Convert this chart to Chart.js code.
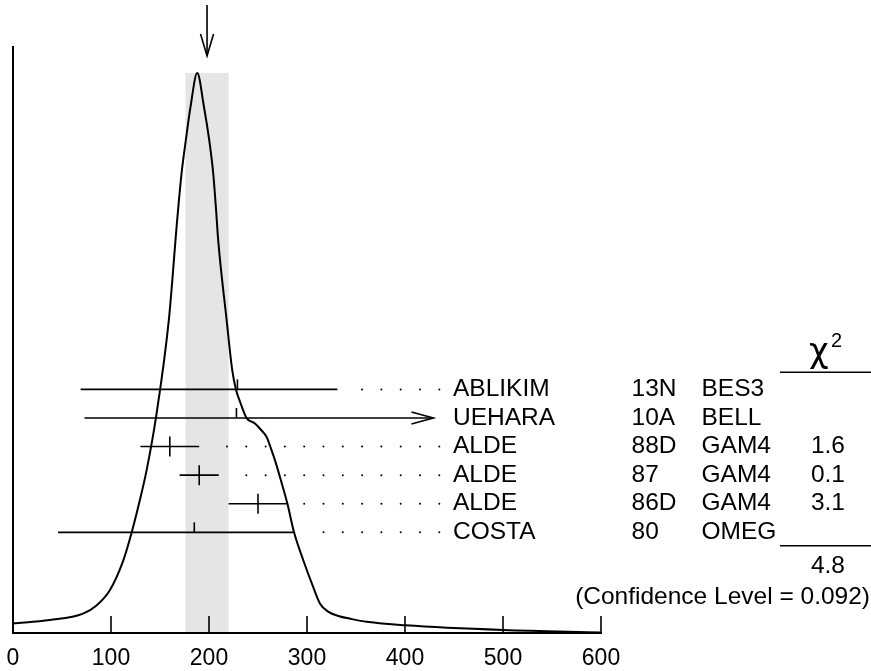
<!DOCTYPE html>
<html>
<head>
<meta charset="utf-8">
<script src="https://cdn.jsdelivr.net/npm/chart.js@4/dist/chart.umd.min.js"></script>
<style>
  html, body { margin: 0; padding: 0; background: #fff; }
  #wrap { width: 871px; height: 671px; }
</style>
</head>
<body>
<div id="wrap"><canvas id="chart"></canvas></div>
<script>
const names = ['ABLIKIM', 'UEHARA', 'ALDE', 'ALDE', 'ALDE', 'COSTA'];
const years = ['13N', '10A', '88D', '87', '86D', '80'];
const experiments = ['BES3', 'BELL', 'GAM4', 'GAM4', 'GAM4', 'OMEG'];
const chi2 = ['', '', '1.6', '0.1', '3.1', ''];
const values = [229, 228, 160, 190, 250, 185];
const lowEdges = [69, 73, 130, 170, 220, 46];
const highEdges = [331, 429, 190, 210, 280, 286];
const arrowRows = [false, true, false, false, false, false];

const fitValue = 198;
const fitError = 22;
const chi2Total = '4.8';
const confidence = '0.092';

const xTicks = [0, 100, 200, 300, 400, 500, 600];

// ideogram curve
const curveX = [0, 37.5, 71.5, 85.2, 98.8, 112.4, 120.9, 129.4, 136.3, 145.5, 159, 167.5, 172, 176.4, 181.2, 188,
    194.8, 200.2, 204.3, 207, 209.4, 218, 223.7, 227.5, 232.3, 238.4, 246.9, 253.7, 258.8, 263.9, 268.3, 273.4, 279.9,
    286.7, 296.2, 306.4, 313.3, 322, 332, 345, 361, 400.4, 500.2, 600];
const curveY = [1.6, 2.2, 3.3, 4.7, 7.3, 12.3, 17.0, 22.6, 27.7, 36.3, 53.3, 70.3, 78.3, 84.0, 89.7, 95.4,
    89.7, 84.0, 78.3, 72.6, 66.9, 53.3, 44.8, 41.5, 39.1, 36.6, 35.7, 34.5, 33.4, 31.1, 28.9, 26.0, 22.1,
    17.2, 12.4, 7.8, 5.0, 3.6, 2.9, 2.4, 1.9, 1.3, 0.5, 0.1];

const FONT = '"Liberation Sans", Arial, Helvetica, sans-serif';
const rowTop = 41.5;
const rowStep = 4.87;

function rowLevel(i) {
    return rowTop - i * rowStep;
}

function line(ctx, x1, y1, x2, y2) {
    ctx.beginPath();
    ctx.moveTo(x1, y1);
    ctx.lineTo(x2, y2);
    ctx.stroke();
}

const ideogram = {
    id: 'ideogram',
    beforeDatasetsDraw(chart) {
        const { ctx, scales: { x, y } } = chart;
        const top = y.getPixelForValue(Math.max(...curveY));
        const left = x.getPixelForValue(fitValue - fitError);
        const right = x.getPixelForValue(fitValue + fitError);
        ctx.save();
        ctx.fillStyle = '#e5e5e5';
        ctx.fillRect(left, top, right - left, y.bottom - top);
        ctx.restore();
    },
    afterDatasetsDraw(chart) {
        const { ctx, chartArea, scales: { x, y } } = chart;
        ctx.save();
        ctx.strokeStyle = '#000';
        ctx.fillStyle = '#000';

        // axes
        ctx.lineWidth = 2;
        line(ctx, chartArea.left, chartArea.top, chartArea.left, chartArea.bottom);
        line(ctx, chartArea.left - 1, chartArea.bottom, chartArea.right + 1, chartArea.bottom);
        ctx.lineWidth = 1.6;
        for (const t of xTicks) {
            const px = x.getPixelForValue(t);
            line(ctx, px, chartArea.bottom, px, chartArea.bottom - 17);
        }

        // fit arrow on top
        const fx = x.getPixelForValue(fitValue);
        line(ctx, fx, 5, fx, 56);
        ctx.beginPath();
        ctx.moveTo(fx - 6.5, 34);
        ctx.lineTo(fx, 56);
        ctx.lineTo(fx + 6.5, 34);
        ctx.stroke();

        // measurements
        const labelX = 439.3;
        for (let i = 0; i < names.length; i++) {
            const py = y.getPixelForValue(rowLevel(i));
            const lo = x.getPixelForValue(lowEdges[i]);
            const hi = x.getPixelForValue(highEdges[i]);
            const cx = x.getPixelForValue(values[i]);
            ctx.lineWidth = 1.6;
            line(ctx, lo, py, hi, py);
            if (chi2[i]) {
                line(ctx, cx, py - 10, cx, py + 10);
            } else {
                line(ctx, cx, py - 10, cx, py);
            }
            if (arrowRows[i]) {
                ctx.beginPath();
                ctx.moveTo(hi - 22, py - 6);
                ctx.lineTo(hi, py);
                ctx.lineTo(hi - 22, py + 6);
                ctx.stroke();
            } else {
                for (let dx = labelX; dx > hi + 15; dx -= 19.3) {
                    ctx.beginPath();
                    ctx.arc(dx, py, 1, 0, Math.PI * 2);
                    ctx.fill();
                }
            }

            ctx.font = '24.5px ' + FONT;
            ctx.textBaseline = 'middle';
            ctx.textAlign = 'left';
            ctx.fillText(names[i], 453, py);
            ctx.fillText(years[i], 631.5, py);
            ctx.fillText(experiments[i], 701.5, py);
            ctx.textAlign = 'right';
            ctx.fillText(chi2[i], 845, py);
        }

        // chi2 column
        ctx.lineWidth = 1.4;
        line(ctx, 780, 372.3, 871, 372.3);
        line(ctx, 780, 545.7, 871, 545.7);
        ctx.textBaseline = 'alphabetic';
        ctx.textAlign = 'left';
        ctx.font = '34px "DejaVu Sans", sans-serif';
        ctx.fillText('\u03C7', 809, 362);
        ctx.font = '20px ' + FONT;
        ctx.fillText('2', 831, 347);

        ctx.font = '24.5px ' + FONT;
        ctx.textBaseline = 'middle';
        ctx.textAlign = 'right';
        ctx.fillText(chi2Total, 845, 566);
        ctx.fillText('(Confidence Level = ' + confidence + ')', 870, 597);
        ctx.restore();
    }
};

new Chart(document.getElementById('chart'), {
    type: 'line',
    data: {
        datasets: [{
            data: curveX.map((v, i) => ({ x: v, y: curveY[i] })),
            borderColor: '#000',
            borderWidth: 2,
            pointRadius: 0,
            fill: false,
            cubicInterpolationMode: 'monotone'
        }]
    },
    options: {
        animation: false,
        responsive: true,
        maintainAspectRatio: false,
        layout: { padding: { top: 46, left: 13, right: 270, bottom: 0 } },
        scales: {
            x: {
                type: 'linear',
                min: 0,
                max: 600,
                afterBuildTicks: scale => { scale.ticks = xTicks.map(v => ({ value: v })); },
                afterFit: scale => {
                    scale.height = 38;
                    scale.paddingLeft = 0;
                    scale.paddingRight = 0;
                },
                grid: { display: false },
                border: { display: false },
                ticks: { color: '#000', padding: 4, maxRotation: 0, font: { family: FONT, size: 23 } }
            },
            y: { display: false, min: 0, max: 100 }
        },
        plugins: { legend: { display: false }, tooltip: { enabled: false } }
    },
    plugins: [ideogram]
});
</script>
</body>
</html>
